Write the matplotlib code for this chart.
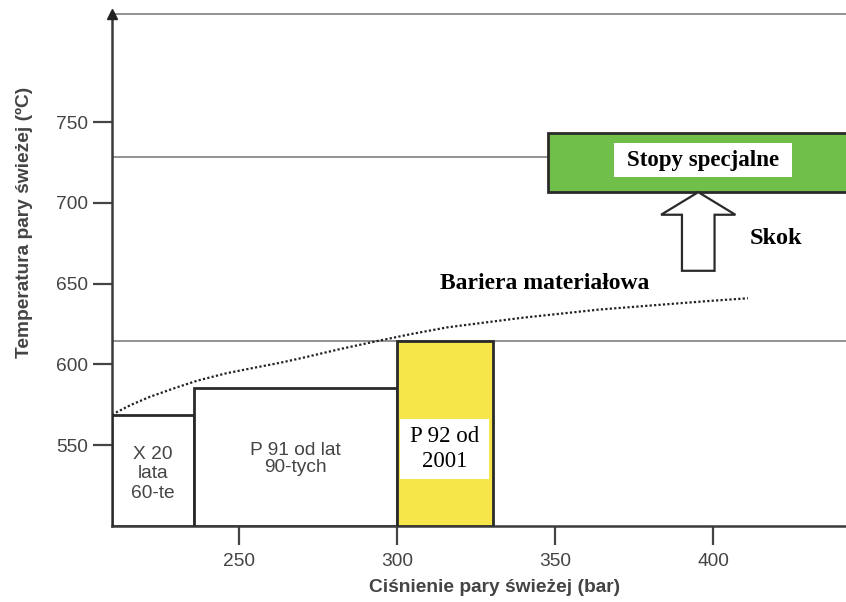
import matplotlib
matplotlib.use("Agg")
import matplotlib.pyplot as plt
from matplotlib.patches import FancyArrow, Rectangle
import numpy as np

# ---- data ----
box_labels = ["X 20\nlata\n60-te", "P 91 od lat\n90-tych", "P 92 od\n2001"]
box_left = [210, 236, 300]
box_right = [236, 300, 330.5]
box_top = [569, 585.5, 614.5]
box_colors = ["white", "white", "#F7E64A"]

special_left = 347.8
special_right = 460
special_bottom = 706.7
special_top = 743.5
special_label = "Stopy specjalne"

line_levels = [614.5, 728.5]
line_ends = [442, 347.8]

barrier_x = [210, 216, 222, 230, 237, 246, 255, 263, 270, 282, 295, 305, 316, 328, 340, 352, 364, 377, 390, 400, 411]
barrier_y = [569, 575, 580, 585.5, 590, 594.5, 598, 601, 604, 609.5, 615, 619, 623, 626, 629, 631.5, 634, 636, 638, 639.5, 641]
barrier_label = "Bariera materiałowa"
jump_label = "Skok"

xticks = [250, 300, 350, 400]
yticks = [550, 600, 650, 700, 750]
xlabel = "Ciśnienie pary świeżej (bar)"
ylabel = "Temperatura pary świeżej (ºC)"

xmin, xmax = 210, 442
ymin, ymax = 500, 816.8

# ---- figure ----
W, H = 846, 602
fig = plt.figure(figsize=(W / 100, H / 100), dpi=100)
ax = fig.add_axes([112 / W, (H - 526) / H, (W - 112) / W, (526 - 14.3) / H])
ax.set_xlim(xmin, xmax)
ax.set_ylim(ymin, ymax)

sans = ["Liberation Sans", "DejaVu Sans"]
serif = ["Liberation Serif", "DejaVu Serif"]
axcol = "#3a3a3a"
txtcol = "#444444"

# reference lines
for lvl, xe in zip(line_levels, line_ends):
    ax.plot([xmin, xe], [lvl, lvl], color="#8a8a8a", lw=1.3, zorder=1)

# material boxes
widths = [r - l for l, r in zip(box_left, box_right)]
heights = [t - ymin for t in box_top]
ax.bar(box_left, heights, width=widths, bottom=ymin, align="edge",
       color=box_colors, edgecolor="#2a2a2a", linewidth=2.0, zorder=3)

# labels in boxes
ax.text((box_left[0] + box_right[0]) / 2, 532.2, box_labels[0], ha="center", va="center",
        family=sans, fontsize=13.8, color=txtcol, linespacing=1.2, zorder=5)
ax.text((box_left[1] + box_right[1]) / 2, 541.5, box_labels[1], ha="center", va="center",
        family=sans, fontsize=13.8, color=txtcol, linespacing=1.05, zorder=5)
# white label panel inside the P 92 box
ax.add_patch(Rectangle((301.0, 529.1), 28.2, 37.2, facecolor="white", edgecolor="none", zorder=4))
ax.text((box_left[2] + box_right[2]) / 2, 547.7, box_labels[2], ha="center", va="center",
        family=serif, fontsize=16.5, color="black", linespacing=1.22, zorder=5)

# special alloys box
ax.bar([special_left], [special_top - special_bottom], width=special_right - special_left,
       bottom=special_bottom, align="edge", color="#6FBF4A", edgecolor="#2a2a2a",
       linewidth=2.0, zorder=3, clip_on=True)
ax.add_patch(Rectangle((368.6, 716.2), 56.3, 20.7, facecolor="white", edgecolor="none", zorder=4))
ax.text(396.7, 726.4, special_label, ha="center", va="center",
        family=serif, fontsize=16.5, fontweight="bold", color="black", zorder=5)

# jump arrow
arrow_x = 395.3
arrow_base = 658
arrow = FancyArrow(arrow_x, arrow_base, 0, special_bottom - arrow_base, width=10.3,
                   head_width=23.5, head_length=special_bottom - 692.7,
                   length_includes_head=True, facecolor="white", edgecolor="#2a2a2a",
                   linewidth=1.6, zorder=4)
ax.add_patch(arrow)
ax.text(411.5, 678, jump_label, ha="left", va="center", family=serif, fontsize=17.5,
        fontweight="bold", color="black")

# barrier curve
ax.plot(barrier_x, barrier_y, color="#222222", lw=1.6, ls=(0, (1, 1)), zorder=2)
ax.text(313.8, 649.9, barrier_label, ha="left", va="center", family=serif, fontsize=17,
        fontweight="bold", color="black")

# axes styling
ax.spines["right"].set_visible(False)
ax.spines["top"].set_color("#8a8a8a")
ax.spines["top"].set_linewidth(1.3)
for s in ["left", "bottom"]:
    ax.spines[s].set_color(axcol)
    ax.spines[s].set_linewidth(1.8)
ax.plot([0], [1], marker="^", color="#222222", markersize=7, transform=ax.transAxes,
        clip_on=False, zorder=10)

ax.set_xticks(xticks)
ax.set_yticks(yticks)
ax.tick_params(axis="both", direction="out", length=13.7, width=1.6, color="#444444",
               labelsize=13.8, labelcolor=txtcol)
ax.tick_params(axis="x", pad=6)
ax.tick_params(axis="y", pad=3.6)
for lab in ax.get_xticklabels() + ax.get_yticklabels():
    lab.set_family(sans)

ax.set_xlabel(xlabel, family=sans, fontsize=13.8, fontweight="bold", color=txtcol)
ax.set_ylabel(ylabel, family=sans, fontsize=13.8, fontweight="bold", color=txtcol)
ax.xaxis.set_label_coords((495 - 112) / 734, (526 - 587) / 511.7)
ax.xaxis.label.set_va("center")
ax.yaxis.set_label_coords((24 - 112) / 734, (526 - 222) / 511.7)
ax.yaxis.label.set_va("center")

fig.savefig("out.png", dpi=100)
